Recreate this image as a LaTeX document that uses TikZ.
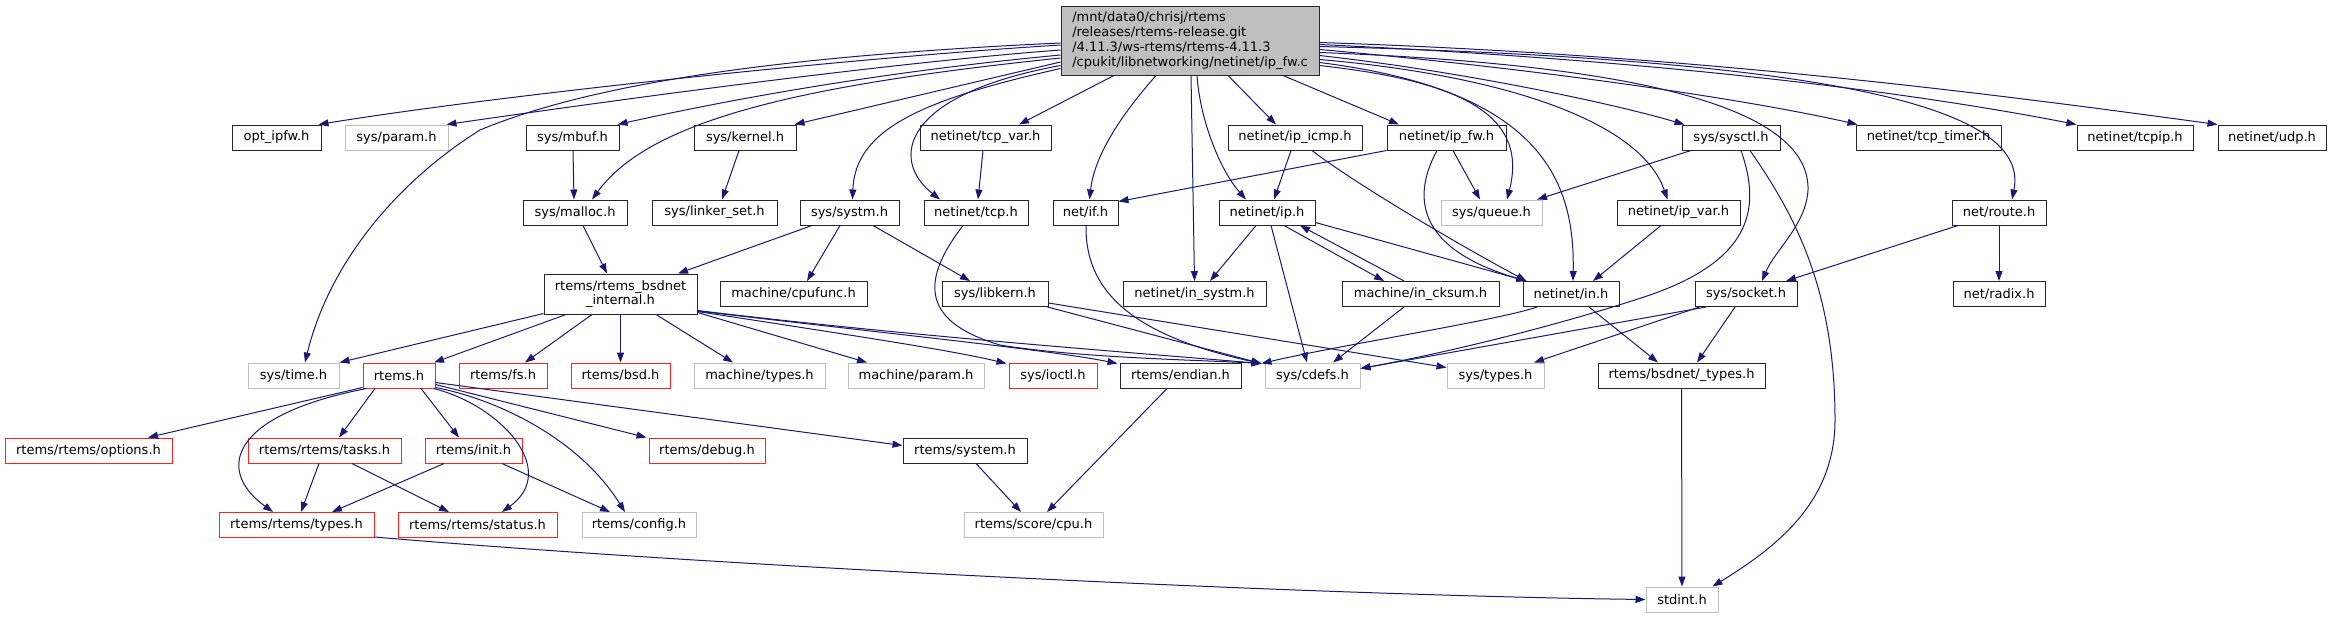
\documentclass[tikz,border=0pt]{standalone}
\usepackage{fontspec}
\setmainfont{DejaVu Sans}
\usetikzlibrary{arrows.meta,calc}
\definecolor{navy}{HTML}{191970}
\definecolor{gray75}{HTML}{BFBFBF}
\definecolor{redb}{HTML}{FF2020}
\tikzset{
  nb/.style={draw=black!85, line width=1pt, fill=white, minimum height=25, inner sep=0pt, font=\fontsize{13}{15}\selectfont},
  ng/.style={nb, draw=gray75},
  nr/.style={nb, draw=redb},
  e/.style={draw=navy, line width=1pt, line join=round, -{Triangle[length=10pt,width=7pt]}},
}
\begin{document}
\begin{tikzpicture}[x=1pt,y=-1pt]
\useasboundingbox (0,0) rectangle (2331,619);
% main
\node[nb, minimum width=258, minimum height=69, fill=gray75, align=left] (main) at (1190,40.5) {/mnt/data0/chrisj/rtems\\/releases/rtems-release.git\\/4.11.3/ws-rtems/rtems-4.11.3\\/cpukit/libnetworking/netinet/ip\_fw.c};
% row 1
\node[nb, minimum width=89] (opt) at (276.5,137.5) {opt\_ipfw.h};
\node[ng, minimum width=103] (sysparam) at (396.5,137.5) {sys/param.h};
\node[nb, minimum width=93] (mbuf) at (572.5,137.5) {sys/mbuf.h};
\node[nb, minimum width=102] (kernel) at (745,137.5) {sys/kernel.h};
\node[nb, minimum width=131] (tcpvar) at (985.5,137.5) {netinet/tcp\_var.h};
\node[nb, minimum width=134] (ipicmp) at (1295,137.5) {netinet/ip\_icmp.h};
\node[nb, minimum width=119] (ipfw) at (1446.5,137.5) {netinet/ip\_fw.h};
\node[nb, minimum width=98] (sysctl) at (1731,137.5) {sys/sysctl.h};
\node[nb, minimum width=145] (tcptimer) at (1928.5,137.5) {netinet/tcp\_timer.h};
\node[nb, minimum width=116] (tcpip) at (2135,137.5) {netinet/tcpip.h};
\node[nb, minimum width=108] (udp) at (2272,137.5) {netinet/udp.h};
% row 2
\node[nb, minimum width=104] (malloc) at (575,212.5) {sys/malloc.h};
\node[nb, minimum width=125] (linker) at (714.5,212.5) {sys/linker\_set.h};
\node[nb, minimum width=99] (systm) at (849.5,212.5) {sys/systm.h};
\node[nb, minimum width=104] (tcp) at (976,212.5) {netinet/tcp.h};
\node[nb, minimum width=65] (netif) at (1085.5,212.5) {net/if.h};
\node[nb, minimum width=96] (ip) at (1267,212.5) {netinet/ip.h};
\node[ng, minimum width=101] (queue) at (1491.5,212.5) {sys/queue.h};
\node[nb, minimum width=123] (ipvar) at (1678.5,212.5) {netinet/ip\_var.h};
\node[nb, minimum width=94] (route) at (1999,212.5) {net/route.h};
% row 3
\node[nb, minimum width=153, minimum height=40, align=center, font=\fontsize{13}{14}\selectfont] (bsdnet) at (620.5,294) {rtems/rtems\_bsdnet\\\_internal.h};
\node[nb, minimum width=147] (cpufunc) at (793.5,294) {machine/cpufunc.h};
\node[nb, minimum width=106] (libkern) at (995,294) {sys/libkern.h};
\node[nb, minimum width=143] (insystm) at (1194.5,294) {netinet/in\_systm.h};
\node[nb, minimum width=157] (incksum) at (1420.5,294) {machine/in\_cksum.h};
\node[nb, minimum width=96] (in) at (1571,294) {netinet/in.h};
\node[nb, minimum width=102] (socket) at (1746,294) {sys/socket.h};
\node[nb, minimum width=92] (radix) at (1999,294) {net/radix.h};
% row 4
\node[ng, minimum width=91] (systime) at (293.5,375.5) {sys/time.h};
\node[nr, minimum width=72] (rtemsh) at (399,375.5) {rtems.h};
\node[nr, minimum width=88] (fs) at (503,375.5) {rtems/fs.h};
\node[nr, minimum width=99] (bsd) at (620.5,375.5) {rtems/bsd.h};
\node[ng, minimum width=131] (mtypes) at (759.5,375.5) {machine/types.h};
\node[ng, minimum width=136] (mparam) at (916,375.5) {machine/param.h};
\node[nr, minimum width=88] (ioctl) at (1053,375.5) {sys/ioctl.h};
\node[nb, minimum width=121] (endian) at (1180.5,375.5) {rtems/endian.h};
\node[ng, minimum width=95] (cdefs) at (1312.5,375.5) {sys/cdefs.h};
\node[ng, minimum width=97] (systypes) at (1495.5,375.5) {sys/types.h};
\node[nb, minimum width=167] (bsdtypes) at (1681.5,375.5) {rtems/bsdnet/\_types.h};
% row 5
\node[nr, minimum width=167] (options) at (88.5,450.5) {rtems/rtems/options.h};
\node[nr, minimum width=153] (tasks) at (324.5,450.5) {rtems/rtems/tasks.h};
\node[nr, minimum width=97] (init) at (473.5,450.5) {rtems/init.h};
\node[nr, minimum width=116] (debug) at (707,450.5) {rtems/debug.h};
\node[nb, minimum width=124] (system) at (965,450.5) {rtems/system.h};
% row 6
\node[nr, minimum width=155] (rtypes) at (296.5,525) {rtems/rtems/types.h};
\node[nr, minimum width=159] (status) at (477.5,525) {rtems/rtems/status.h};
\node[ng, minimum width=114] (config) at (639,525) {rtems/config.h};
\node[ng, minimum width=139] (cpu) at (1033.5,525) {rtems/score/cpu.h};
% row 7
\node[ng, minimum width=72] (stdint) at (1682,599.5) {stdint.h};

% ---- edges from main
\draw[e] ($(main.west)+(0,4.5)$) .. controls (850,58) and (500,95) .. ($(opt.north east)+(-3,0)$);
\draw[e] ($(main.west)+(0,9.5)$) .. controls (900,62) and (650,95) .. ($(sysparam.north east)+(-2,0)$);
\draw[e] ($(main.west)+(0,14.5)$) .. controls (900,70) and (750,95) .. ($(mbuf.north east)+(-2,0)$);
\draw[e] ($(main.west)+(0,21.5)$) -- ($(kernel.north east)+(-2,0)$);
\draw[e] ($(main.west)+(0,17.5)$) .. controls (800,85) and (650,120) .. ($(malloc.north)+(17,0)$);
\draw[e] ($(main.west)+(0,2.5)$) .. controls (800,55) and (600,80) .. (480,130) .. controls (400,180) and (330,260) .. ($(systime.north)+(11.5,0)$);
\draw[e] ($(main.west)+(0,28)$) .. controls (920,100) and (855,130) .. ($(systm.north)+(3,0)$);
\draw[e] ($(main.west)+(0,25)$) .. controls (900,95) and (890,160) .. ($(tcp.north)+(-36,0)$);
\draw[e] ($(main.south)+(-76,0)$) -- ($(tcpvar.north)+(33.5,0)$);
\draw[e] ($(main.south)+(-34,0)$) .. controls (1130,105) and (1095,150) .. ($(netif.north)+(4,0)$);
\draw[e] ($(main.south)+(1,0)$) -- (insystm.north);
\draw[e] ($(main.south)+(7,0)$) .. controls (1200,120) and (1220,170) .. ($(ip.north)+(-21,0)$);
\draw[e] ($(main.south)+(38,0)$) -- ($(ipicmp.north)+(-19,0)$);
\draw[e] ($(main.south)+(93,0)$) -- ($(ipfw.north)+(-47.5,0)$);
\draw[e] ($(main.east)+(0,25)$) .. controls (1450,80) and (1530,110) .. ($(queue.north)+(15.5,0)$);
\draw[e] ($(main.east)+(0,22)$) .. controls (1540,90) and (1575,180) .. ($(in.north)+(2,0)$);
\draw[e] ($(main.east)+(0,19)$) .. controls (1500,75) and (1640,120) .. ($(ipvar.north)+(-11,0)$);
\draw[e] ($(main.east)+(0,15)$) .. controls (1450,70) and (1600,100) .. ($(sysctl.north west)+(3,0)$);
\draw[e] ($(main.east)+(0,12)$) .. controls (1650,65) and (1810,110) .. (1808,190) .. controls (1806,225) and (1775,250) .. ($(socket.north)+(16,0)$);
\draw[e] ($(main.east)+(0,9)$) .. controls (1550,70) and (1750,100) .. ($(tcptimer.north west)+(2,0)$);
\draw[e] ($(main.east)+(0,6)$) .. controls (1850,60) and (2030,110) .. ($(route.north)+(13,0)$);
\draw[e] ($(main.east)+(0,4)$) .. controls (1650,60) and (1900,90) .. (tcpip.north west);
\draw[e] ($(main.east)+(0,2)$) .. controls (1700,55) and (2000,95) .. (udp.north west);

% ---- other edges
\draw[e] ($(mbuf.south)+(0.5,0)$) -- ($(malloc.north)+(-1,0)$);
\draw[e] ($(kernel.south)+(-6,0)$) -- ($(linker.north)+(7.5,0)$);
\draw[e] ($(malloc.south)+(8,0)$) -- ($(bsdnet.north)+(-13.5,0)$);
\draw[e] ($(systm.south)+(-37.5,0)$) -- ($(bsdnet.north)+(57.5,0)$);
\draw[e] ($(systm.south)+(-9.5,0)$) -- ($(cpufunc.north)+(13.5,0)$);
\draw[e] ($(systm.south)+(23.5,0)$) -- ($(libkern.north)+(-25,0)$);
\draw[e] ($(tcpvar.south)+(-2.5,0)$) -- ($(tcp.north)+(2,0)$);
\draw[e] ($(tcp.south)+(-13,0)$) .. controls (925,275) and (915,320) .. (1000,345) .. controls (1080,358) and (1200,360) .. ($(cdefs.north west)+(-3,1)$);
\draw[e] ($(netif.south)+(0.5,0)$) .. controls (1085,290) and (1130,335) .. ($(cdefs.north west)+(-3,1)$);
\draw[e] ($(bsdnet.south east)+(0,-4)$) .. controls (900,335) and (1100,350) .. ($(cdefs.north west)+(-3,1)$);
\draw[e] ($(libkern.south east)+(-1,0)$) -- ($(cdefs.north west)+(-3,1)$);
\draw[e] ($(libkern.south east)+(0,-4)$) -- ($(systypes.north west)+(0,5)$);
\draw[e] ($(ip.south)+(-11,0)$) -- ($(insystm.north)+(15.5,0)$);
\draw[e] ($(ip.south)+(17,0)$) -- ($(incksum.north)+(-36.5,0)$);
\draw[e] ($(incksum.north)+(-16.5,0)$) -- ($(ip.south)+(33,0)$);
\draw[e] ($(ip.east)+(0,10)$) -- ($(in.north west)+(4,0)$);
\draw[e] ($(ip.south)+(4,0)$) -- ($(cdefs.north)+(-5.5,0)$);
\draw[e] ($(incksum.south)+(-16.5,0)$) -- ($(cdefs.north)+(20.5,0)$);
\draw[e] ($(in.south)+(-34,0)$) .. controls (1500,320) and (1340,345) .. ($(cdefs.north west)+(-3,1)$);
\draw[e] ($(ipicmp.south)+(-4,0)$) -- ($(ip.north)+(7,0)$);
\draw[e] ($(ipicmp.south)+(17,0)$) .. controls (1350,180) and (1450,240) .. ($(in.north west)+(4,0)$);
\draw[e] (ipfw.south west) -- ($(netif.north east)+(0,2)$);
\draw[e] ($(ipfw.south)+(6.5,0)$) -- ($(queue.north)+(-11.5,0)$);
\draw[e] ($(ipfw.south)+(-9.5,0)$) .. controls (1410,200) and (1420,250) .. ($(in.north west)+(4,0)$);
\draw[e] ($(sysctl.south)+(-40,0)$) -- ($(queue.north)+(45.5,0)$);
\draw[e] ($(sysctl.south)+(10,0)$) .. controls (1762,210) and (1750,260) .. (1650,295) .. controls (1560,325) and (1450,352) .. ($(cdefs.east)+(0,-7)$);
\draw[e] ($(sysctl.south)+(19,0)$) .. controls (1795,215) and (1835,290) .. (1835,420) .. controls (1835,500) and (1780,545) .. ($(stdint.north east)+(-6,0)$);
\draw[e] ($(route.south)+(-41,0)$) -- ($(socket.north)+(40,0)$);
\draw[e] (route.south) -- (radix.north);
\draw[e] ($(socket.south)+(-40,0)$) -- ($(cdefs.east)+(0,-7)$);
\draw[e] ($(socket.south west)+(5,0)$) -- ($(systypes.north)+(38.5,0)$);
\draw[e] ($(socket.south)+(-11,0)$) -- ($(bsdtypes.north)+(15.5,0)$);
\draw[e] ($(ipvar.south)+(-17.5,0)$) -- ($(in.north)+(22,0)$);
\draw[e] ($(in.south)+(18,0)$) -- ($(bsdtypes.north)+(-23.5,0)$);
\draw[e] (bsdtypes.south) -- (stdint.north);
% bsdnet internal
\draw[e] ($(bsdnet.south west)+(0,-1)$) -- (systime.north east);
\draw[e] ($(bsdnet.south)+(-54.5,0)$) -- ($(rtemsh.north)+(35,0)$);
\draw[e] ($(bsdnet.south)+(-28.5,0)$) -- ($(fs.north)+(22,0)$);
\draw[e] (bsdnet.south) -- (bsd.north);
\draw[e] ($(bsdnet.south)+(35.5,0)$) -- ($(mtypes.north)+(-26.5,0)$);
\draw[e] ($(bsdnet.south east)+(0,-2)$) -- ($(mparam.north)+(-49,0)$);
\draw[e] ($(bsdnet.south east)+(0,-3)$) .. controls (850,335) and (950,350) .. ($(ioctl.north west)+(-2,1)$);
\draw[e] ($(bsdnet.south east)+(0,-3.5)$) .. controls (900,335) and (1050,350) .. ($(endian.north west)+(-2,1)$);
% rtems.h
\draw[e] ($(rtemsh.south west)+(0,-1)$) -- ($(options.north)+(59.5,0)$);
\draw[e] ($(rtemsh.south west)+(4,0)$) .. controls (230,415) and (215,470) .. ($(rtypes.north)+(-23.5,0)$);
\draw[e] ($(rtemsh.south)+(-24,0)$) -- ($(tasks.north)+(14.5,0)$);
\draw[e] ($(rtemsh.south)+(22,0)$) -- ($(init.north)+(-14.5,0)$);
\draw[e] ($(rtemsh.south east)+(-2,0)$) .. controls (500,405) and (560,470) .. ($(status.north)+(24.5,0)$);
\draw[e] ($(rtemsh.south east)+(0,-1)$) .. controls (500,400) and (580,440) .. ($(config.north)+(-14,0)$);
\draw[e] ($(rtemsh.east)+(0,9)$) -- ($(debug.north west)+(-2,0)$);
\draw[e] ($(rtemsh.east)+(0,7)$) -- ($(system.west)+(0,-5)$);
\draw[e] ($(tasks.south)+(-5.5,0)$) -- ($(rtypes.north)+(4.5,0)$);
\draw[e] ($(tasks.south)+(27.5,0)$) -- ($(status.north)+(-28.5,0)$);
\draw[e] ($(init.south)+(-29.5,0)$) -- ($(rtypes.north)+(35.5,0)$);
\draw[e] ($(init.south)+(28.5,0)$) -- ($(config.north)+(-29,0)$);
\draw[e] ($(system.south)+(11,0)$) -- ($(cpu.north)+(-12.5,0)$);
\draw[e] ($(endian.south)+(-13.5,0)$) -- ($(cpu.north)+(13.5,0)$);
\draw[e] ($(rtypes.south east)+(0,-1)$) .. controls (700,565) and (1300,595) .. (stdint.west);
\end{tikzpicture}
\end{document}
